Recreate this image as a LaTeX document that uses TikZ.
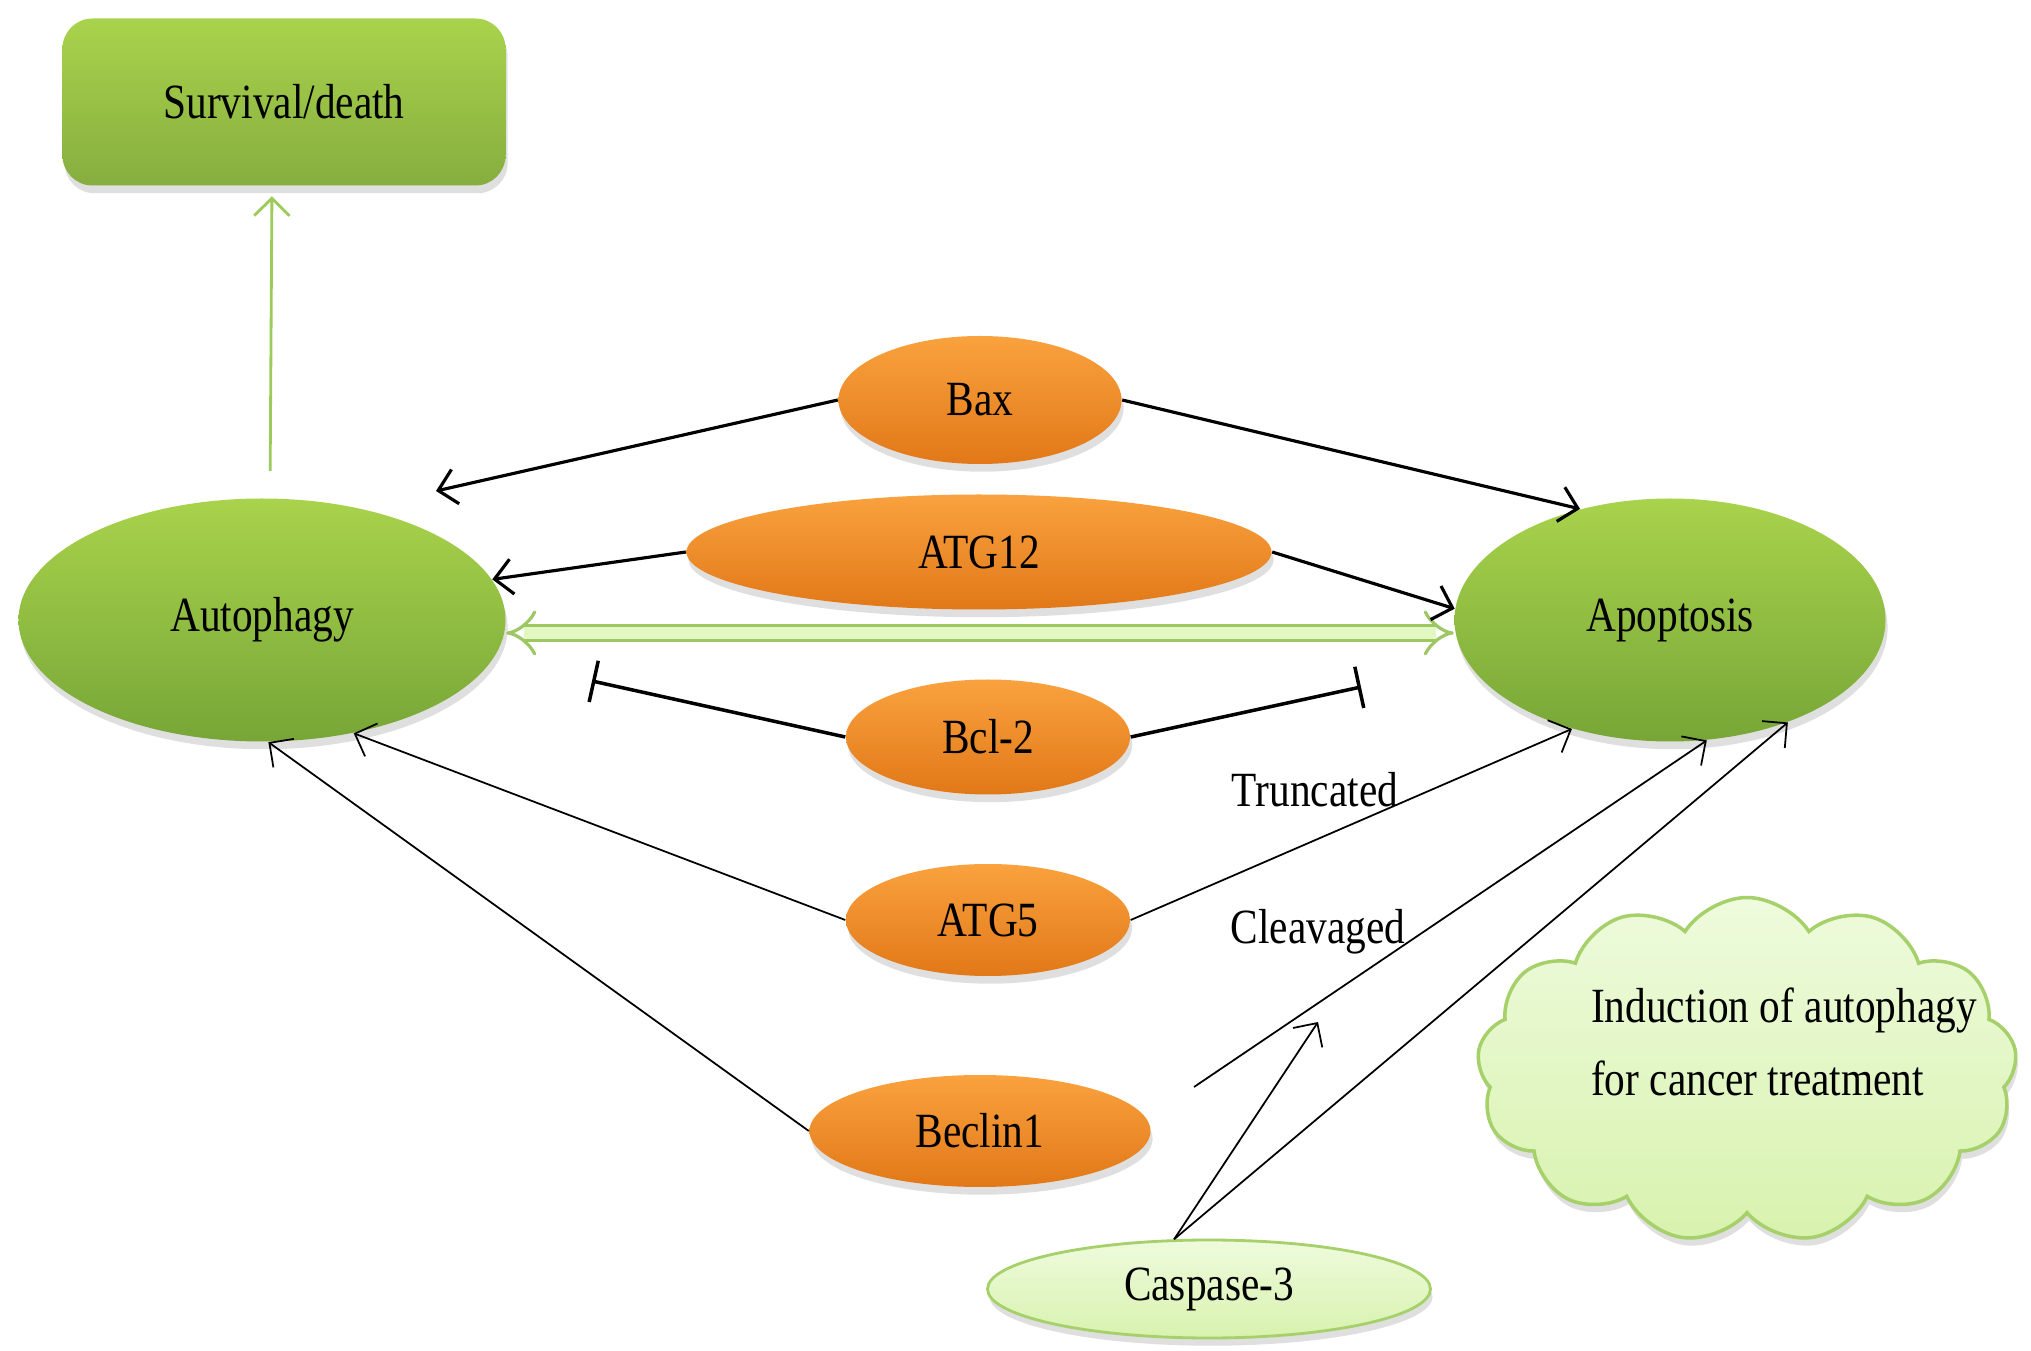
\documentclass[tikz,border=0pt]{standalone}
\usepackage{fontspec}
\setmainfont{Liberation Serif}[FakeStretch=0.84]
\usepackage{tikz}
\usetikzlibrary{arrows.meta}
\usetikzlibrary{shapes.geometric}
\usetikzlibrary{shapes.symbols}
\usetikzlibrary{shadows}
\definecolor{leafhi}{HTML}{A9D34C}
\definecolor{leaflo}{HTML}{77A637}
\definecolor{boxlo}{HTML}{86AE3F}
\definecolor{orghi}{HTML}{F9A23E}
\definecolor{orglo}{HTML}{E27818}
\definecolor{palehi}{HTML}{EEFBDD}
\definecolor{palelo}{HTML}{D8F2AE}
\definecolor{paleedge}{HTML}{A6D06A}
\definecolor{bandfill}{HTML}{E2F8C3}
\definecolor{bandedge}{HTML}{9DC763}
\definecolor{stemgreen}{HTML}{9CCB5C}
\tikzset{txt/.style = {font = \fontsize{14}{20.7}\selectfont}}
\tikzset{soft/.style = {drop shadow = {opacity = 0.25, shadow xshift = 0.6pt, shadow yshift = -2.2pt}}}
\tikzset{cell/.style = {txt, soft, ellipse, inner sep = 0, top color = leafhi, bottom color = leaflo, minimum height = 2.43cm}}
\tikzset{prot/.style = {txt, soft, ellipse, inner sep = 0, top color = orghi, bottom color = orglo}}
\tikzset{act/.style = {-{Straight Barb[length = 5pt, width = 10pt]}}}
\tikzset{block/.style = {-{Bar[width = 12pt]}, line width = 1pt}}

\begin{document}
\begin{tikzpicture}
\useasboundingbox (0, 0) rectangle (20.31, 13.5);

      \node [txt, soft, rectangle, rounded corners = 0.3cm, top color = leafhi, bottom color = boxlo, minimum width = 4.43cm, minimum height = 1.67cm] (surv) at (2.84, 12.48) {Survival/death};

      \node [cell, minimum width = 4.87cm] (auto) at (2.62, 7.30) {Autophagy};
      \node [cell, minimum width = 4.31cm] (apop) at (16.70, 7.30) {Apoptosis};

      \node [prot, minimum width = 2.83cm, minimum height = 1.28cm] (bax) at (9.80, 9.50) {Bax};
      \node [prot, minimum width = 5.85cm, minimum height = 1.15cm] (atg12) at (9.79, 7.98) {ATG12};
      \node [prot, minimum width = 2.84cm, minimum height = 1.15cm] (bcl) at (9.88, 6.13) {Bcl-2};
      \node [prot, minimum width = 2.84cm, minimum height = 1.12cm] (atg5) at (9.88, 4.30) {ATG5};
      \node [prot, minimum width = 3.41cm, minimum height = 1.12cm] (beclin) at (9.80, 2.19) {Beclin1};

      \node [txt, soft, ellipse, inner sep = 0, top color = palehi, bottom color = palelo, draw = paleedge, line width = 0.8pt, minimum width = 4.43cm, minimum height = 0.98cm] (casp) at (12.09, 0.61) {Caspase-3};

      \node [soft, cloud, cloud puffs = 13, cloud puff arc = 115, cloud ignores aspect, top color = palehi, bottom color = palelo, draw = paleedge, line width = 1pt, minimum width = 5.40cm, minimum height = 3.45cm] (cloud) at (17.47, 2.80) {};
      \node [txt, align = left] (cloudtxt) at (17.84, 3.08) {Induction of autophagy\\for cancer treatment};

      \node [txt] (trunc) at (13.15, 5.60) {Truncated};
      \node [txt] (cleav) at (13.18, 4.18) {Cleavaged};

      \coordinate (baxL) at (4.36, 8.59);
      \coordinate (bclL) at (5.92, 6.69);
      \coordinate (bclR) at (13.61, 6.63);
      \coordinate (cleavfrom) at (11.94, 2.63);
      \coordinate (cleavmid) at (13.18, 3.28);

      \draw [act, stemgreen, line width = 0.8pt, shorten <= 0.27cm, shorten >= 0.1cm] ([xshift = 0.08cm]auto.north) -- ([xshift = -0.12cm]surv.south);

      \draw [bandedge, line width = 0.9pt, {Implies}-{Implies}, double = bandfill, double distance = 3.6pt] ([yshift = -0.13cm]auto.east) -- ([yshift = -0.13cm]apop.west);

      \draw [act, line width = 0.9pt] (bax.west) -- (baxL);
      \draw [act, line width = 0.9pt] (bax.east) -- (apop.129);
      \draw [act, line width = 0.9pt] (atg12.west) -- (auto.10);
      \draw [act, line width = 0.9pt] (atg12.east) -- (apop.177);
      \draw [block] (bcl.west) -- (bclL);
      \draw [block] (bcl.east) -- (bclR);
      \draw [act, line width = 0.5pt] (atg5.west) -- (auto.-51);
      \draw [act, line width = 0.5pt] (atg5.east) -- (apop.-132);
      \draw [act, line width = 0.5pt] (beclin.west) -- (auto.-87);
      \draw [act, line width = 0.5pt] (cleavfrom) -- (apop.-73);
      \draw [act, line width = 0.5pt] (casp.125) -- (cleavmid);
      \draw [act, line width = 0.5pt] (casp.125) -- (apop.-41);
    \end{tikzpicture}
\end{document}
